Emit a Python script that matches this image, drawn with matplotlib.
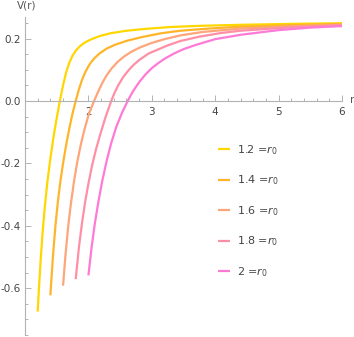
import numpy as np
import matplotlib.pyplot as plt
from matplotlib.ticker import MultipleLocator, FixedLocator

plt.rcParams['font.family'] = 'DejaVu Sans'
plt.rcParams['axes.unicode_minus'] = False

# values, one pair of lists per r0
r0_labels = ["1.2", "1.4", "1.6", "1.8", "2"]
colors = ["#ffd700", "#ffb52a", "#ffa57a", "#ff8fa6", "#ff7ad6"]

r_12 = [1.20, 1.22, 1.25, 1.28, 1.31, 1.35, 1.40, 1.45, 1.50, 1.55, 1.60, 1.65, 1.70, 1.75, 1.80,
        1.87, 1.95, 2.05, 2.18, 2.35, 2.6, 2.9, 3.3, 3.8, 4.4, 5.2, 6.0]
v_12 = [-0.675, -0.60, -0.50, -0.415, -0.345, -0.265, -0.185, -0.115, -0.055, 0.0, 0.05, 0.092, 0.123,
        0.145, 0.161, 0.176, 0.188, 0.198, 0.208, 0.217, 0.225, 0.231, 0.237, 0.241, 0.244, 0.247, 0.249]

r_14 = [1.40, 1.44, 1.48, 1.52, 1.56, 1.60, 1.65, 1.70, 1.75, 1.80, 1.85, 1.90, 1.95, 2.00, 2.05,
        2.10, 2.18, 2.29, 2.42, 2.61, 2.85, 3.15, 3.45, 3.9, 4.4, 5.2, 6.0]
v_14 = [-0.623, -0.50, -0.40, -0.32, -0.255, -0.20, -0.14, -0.087, -0.04, 0.0, 0.037, 0.068, 0.092,
        0.111, 0.126, 0.138, 0.153, 0.168, 0.18, 0.193, 0.205, 0.217, 0.225, 0.232, 0.238, 0.243, 0.247]

r_16 = [1.60, 1.64, 1.68, 1.72, 1.77, 1.82, 1.88, 1.94, 2.01, 2.09, 2.15, 2.22, 2.29, 2.37, 2.46,
        2.56, 2.68, 2.82, 3.0, 3.2, 3.45, 3.8, 4.4, 5.2, 6.0]
v_16 = [-0.592, -0.49, -0.405, -0.335, -0.262, -0.20, -0.14, -0.09, -0.04, 0.0, 0.028, 0.058, 0.083,
        0.105, 0.125, 0.142, 0.158, 0.172, 0.186, 0.198, 0.21, 0.221, 0.232, 0.239, 0.244]

r_18 = [1.80, 1.85, 1.90, 1.95, 2.00, 2.06, 2.12, 2.19, 2.27, 2.36, 2.41, 2.47, 2.55, 2.64, 2.72,
        2.80, 2.95, 3.25, 3.45, 3.75, 4.1, 4.4, 5.2, 6.0]
v_18 = [-0.571, -0.47, -0.39, -0.322, -0.265, -0.205, -0.155, -0.105, -0.052, 0.0, 0.025, 0.05, 0.077,
        0.10, 0.117, 0.131, 0.152, 0.178, 0.192, 0.206, 0.218, 0.225, 0.236, 0.242]

r_20 = [2.00, 2.05, 2.10, 2.16, 2.22, 2.29, 2.36, 2.44, 2.53, 2.62, 2.70, 2.80, 2.90, 3.0, 3.1,
        3.2, 3.35, 3.5, 3.7, 4.0, 4.4, 5.0, 5.5, 6.0]
v_20 = [-0.559, -0.47, -0.395, -0.32, -0.255, -0.19, -0.135, -0.083, -0.038, 0.0, 0.03, 0.06, 0.085,
        0.105, 0.121, 0.135, 0.152, 0.166, 0.18, 0.198, 0.212, 0.227, 0.235, 0.240]

curves = [(r_12, v_12), (r_14, v_14), (r_16, v_16), (r_18, v_18), (r_20, v_20)]

fig = plt.figure(figsize=(3.54, 3.37), dpi=100)
ax = fig.add_axes([25 / 354, 1 - 335 / 337, (342 - 25) / 354, (335 - 17) / 337])

for (r, v), lab, c in zip(curves, r0_labels, colors):
    ax.plot(r, v, color=c, lw=1.6, label=lab + " =$r_0$", solid_capstyle='butt',
            solid_joinstyle='round')

ax.set_xlim(1.0, 6.0)
ax.set_ylim(-0.75, 0.269)

axis_gray = "#b3b3b3"
for s in ["top", "right"]:
    ax.spines[s].set_visible(False)
ax.spines["bottom"].set_position(("data", 0))
ax.spines["bottom"].set_color(axis_gray)
ax.spines["left"].set_color(axis_gray)
ax.spines["bottom"].set_linewidth(0.8)
ax.spines["left"].set_linewidth(0.8)

ax.xaxis.set_major_locator(FixedLocator([2, 3, 4, 5, 6]))
ax.xaxis.set_minor_locator(FixedLocator(np.arange(1.2, 6.0, 0.2)))
ax.yaxis.set_major_locator(FixedLocator([-0.6, -0.4, -0.2, 0.0, 0.2]))
ax.yaxis.set_minor_locator(MultipleLocator(0.05))
ax.set_yticklabels(["-0.6", "-0.4", "-0.2", "0.0", "0.2"])
ax.set_xticklabels(["2", "3", "4", "5", "6"])

ax.tick_params(which="both", direction="in", color=axis_gray, labelcolor="#444444",
               labelsize=7.5, width=0.7)
ax.tick_params(which="major", length=4)
ax.tick_params(which="minor", length=2.3)
ax.tick_params(axis="x", pad=4)
ax.tick_params(axis="y", pad=3)

ax.annotate("V(r)", xy=(0, 1), xycoords="axes fraction", xytext=(1, 8),
            textcoords="offset points", ha="center", va="center",
            fontsize=7.5, color="#555555", annotation_clip=False)
ax.annotate("r", xy=(6.0, 0), xycoords="data", xytext=(7, 1),
            textcoords="offset points", ha="center", va="center",
            fontsize=7.5, color="#555555", annotation_clip=False)

leg = ax.legend(loc="upper left", bbox_to_anchor=(218 / 354, 1 - 143 / 337),
                bbox_transform=fig.transFigure, frameon=False, fontsize=8,
                handlelength=1.1, handletextpad=0.6, labelspacing=1.5,
                borderpad=0, borderaxespad=0)
for t in leg.get_texts():
    t.set_color("#444444")

fig.savefig("out.png", dpi=100)
